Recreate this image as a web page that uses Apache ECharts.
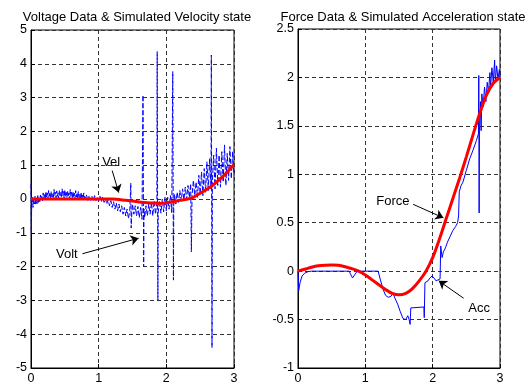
<!DOCTYPE html>
<html>
<head>
<meta charset="utf-8">
<script src="https://cdn.jsdelivr.net/npm/echarts@6/dist/echarts.min.js"></script>
<style>
  html, body { margin: 0; padding: 0; background: #fff; }
  #chart { width: 530px; height: 385px; }
</style>
</head>
<body>
<div id="chart"></div>
<script>
// left panel: voltage data (blue) and simulated velocity (red)
const voltData = [
  [0.00, 0.45], [0.005, -1.0], [0.01, -0.2], [0.02, 0.05], [0.03, -0.25], [0.04, 0.0], [0.05, -0.15],
  [0.06, 0.08], [0.07, -0.18], [0.08, -0.02], [0.09, -0.14], [0.10, 0.1], [0.11, -0.1], [0.12, 0.02],
  [0.13, -0.08], [0.14, 0.12], [0.15, -0.02], [0.16, 0.08], [0.17, -0.05], [0.18, 0.18], [0.19, 0.0],
  [0.20, 0.15], [0.21, -0.02], [0.22, 0.22], [0.23, 0.05], [0.24, 0.18], [0.25, 0.0], [0.26, 0.25],
  [0.27, 0.08], [0.28, 0.2], [0.29, 0.02], [0.30, 0.22], [0.31, 0.06], [0.32, 0.16], [0.33, 0.0],
  [0.34, 0.28], [0.35, 0.1], [0.36, 0.2], [0.37, 0.03], [0.38, 0.24], [0.39, 0.08], [0.40, 0.18],
  [0.41, 0.0], [0.42, 0.26], [0.43, 0.1], [0.44, 0.2], [0.45, 0.04], [0.46, 0.3], [0.47, 0.1],
  [0.48, 0.22], [0.49, 0.02], [0.50, 0.27], [0.51, 0.08], [0.52, 0.2], [0.53, 0.05], [0.54, 0.24],
  [0.55, 0.06], [0.56, 0.18], [0.57, 0.0], [0.58, 0.28], [0.59, 0.08], [0.60, 0.2], [0.61, 0.03],
  [0.62, 0.22], [0.63, 0.05], [0.64, 0.17], [0.65, 0.0], [0.66, 0.25], [0.67, 0.06], [0.68, 0.18],
  [0.69, 0.02], [0.70, 0.22], [0.71, 0.04], [0.72, 0.14], [0.73, -0.02], [0.74, 0.2], [0.75, 0.03],
  [0.76, 0.12], [0.77, 0.0], [0.78, 0.18], [0.79, 0.02], [0.80, 0.1], [0.81, -0.03], [0.82, 0.12],
  [0.84, -0.05], [0.86, 0.1], [0.88, -0.04], [0.90, 0.08], [0.92, -0.06], [0.94, 0.1], [0.96, -0.05],
  [0.98, 0.06], [1.00, -0.06], [1.02, 0.08], [1.04, -0.08], [1.06, 0.06], [1.08, -0.1], [1.10, 0.02],
  [1.12, -0.15], [1.14, -0.02], [1.16, -0.2], [1.18, -0.05], [1.20, -0.25], [1.22, -0.08], [1.24, -0.3],
  [1.26, -0.12], [1.28, -0.35], [1.30, -0.15], [1.32, -0.38], [1.34, -0.2], [1.36, -0.45], [1.38, -0.25],
  [1.40, -0.5], [1.42, -0.3], [1.44, -0.58], [1.46, -0.35], [1.475, 0.47], [1.48, -0.86], [1.49, -0.4],
  [1.50, -0.15], [1.52, -0.45], [1.54, -0.2], [1.56, -0.5], [1.58, -0.22], [1.60, -0.55], [1.62, -0.25],
  [1.64, -0.6], [1.655, 3.07], [1.665, -2.0], [1.67, -0.3], [1.68, -0.55], [1.70, -0.2], [1.72, -0.5],
  [1.74, -0.15], [1.76, -0.45], [1.78, -0.1], [1.80, -0.5], [1.82, -0.05], [1.84, -0.45], [1.86, -0.1],
  [1.865, 4.36], [1.875, -2.99], [1.88, -0.4], [1.90, -0.05], [1.92, -0.42], [1.94, 0.0], [1.96, -0.38],
  [1.98, 0.05], [2.00, -0.35], [2.02, 0.05], [2.04, -0.3], [2.06, 0.1], [2.08, -0.4], [2.095, 3.77],
  [2.105, -2.4], [2.11, -0.1], [2.12, 0.15], [2.14, -0.15], [2.16, 0.2], [2.18, -0.1], [2.20, 0.25],
  [2.22, -0.05], [2.24, 0.3], [2.26, -0.02], [2.28, 0.35], [2.30, 0.0], [2.32, 0.4], [2.34, 0.05],
  [2.36, 0.45], [2.37, -1.56], [2.38, 0.1], [2.40, 0.55], [2.42, 0.1], [2.44, 0.5], [2.46, 0.05],
  [2.48, 0.7], [2.50, 0.15], [2.52, 0.8], [2.54, 0.1], [2.56, 0.9], [2.58, 0.2], [2.60, 1.1],
  [2.62, 0.25], [2.64, 1.2], [2.66, 0.3], [2.665, 4.26], [2.675, -4.4], [2.68, 0.5], [2.70, 1.3],
  [2.72, 0.3], [2.74, 1.5], [2.76, 0.4], [2.78, 1.3], [2.80, 0.35], [2.82, 1.4], [2.84, 0.5],
  [2.86, 1.6], [2.88, 0.4], [2.90, 1.35], [2.92, 0.55], [2.94, 1.55], [2.96, 0.6], [2.98, 1.4],
  [3.00, 0.7]
];
const velData = [
  [0, 0], [0.5, 0], [1.0, 0], [1.2, 0], [1.4, -0.04], [1.6, -0.09], [1.8, -0.12], [1.9, -0.13],
  [2.0, -0.11], [2.1, -0.08], [2.2, -0.04], [2.3, -0.01], [2.4, 0.05], [2.5, 0.17], [2.6, 0.29],
  [2.7, 0.43], [2.8, 0.6], [2.9, 0.8], [3.0, 1.02]
];

// right panel: force data (red) and acceleration (blue)
const forceData = [
  [0, 0], [0.1, 0.02], [0.2, 0.04], [0.3, 0.055], [0.4, 0.062], [0.5, 0.064], [0.6, 0.06],
  [0.7, 0.045], [0.8, 0.025], [0.9, 0.0], [1.0, -0.04], [1.1, -0.09], [1.2, -0.14], [1.3, -0.19],
  [1.4, -0.23], [1.5, -0.245], [1.6, -0.23], [1.7, -0.18], [1.8, -0.1], [1.9, 0.0], [2.0, 0.14],
  [2.1, 0.33], [2.2, 0.54], [2.3, 0.75], [2.4, 0.96], [2.5, 1.18], [2.6, 1.41], [2.7, 1.63],
  [2.8, 1.82], [2.9, 1.94], [3.0, 2.0]
];
const accData = [
  [0.00, 0.0], [0.01, -0.2], [0.03, -0.12], [0.06, -0.05], [0.10, -0.02], [0.15, -0.005], [0.20, 0],
  [0.76, 0], [0.78, -0.03], [0.81, -0.07], [0.84, -0.04], [0.87, -0.01], [0.90, 0], [1.19, 0],
  [1.22, -0.08], [1.26, -0.18], [1.30, -0.25], [1.34, -0.27], [1.38, -0.26], [1.41, -0.23],
  [1.44, -0.28], [1.48, -0.34], [1.52, -0.42], [1.56, -0.49], [1.60, -0.5], [1.63, -0.46],
  [1.65, -0.5], [1.665, -0.55], [1.675, -0.38], [1.70, -0.37], [1.87, -0.37], [1.875, -0.48],
  [1.885, -0.12], [1.90, -0.14], [1.93, -0.1], [1.96, -0.07], [1.99, -0.05], [2.02, -0.07],
  [2.05, -0.1], [2.08, -0.09], [2.11, -0.08], [2.12, 0.26], [2.14, 0.14], [2.16, 0.2], [2.19, 0.24],
  [2.22, 0.3], [2.26, 0.36], [2.30, 0.42], [2.34, 0.46], [2.37, 0.5], [2.385, 0.57], [2.395, 0.82],
  [2.42, 0.88], [2.45, 0.92], [2.50, 1.04], [2.55, 1.16], [2.60, 1.25], [2.65, 1.35], [2.68, 1.42],
  [2.685, 2.02], [2.69, 0.6], [2.695, 1.45], [2.71, 1.75], [2.72, 1.45], [2.73, 1.83], [2.75, 1.7],
  [2.77, 1.9], [2.79, 1.75], [2.81, 1.95], [2.83, 1.85], [2.85, 2.05], [2.86, 1.9], [2.88, 2.1],
  [2.90, 1.95], [2.92, 2.18], [2.93, 1.95], [2.95, 2.12], [2.97, 1.98], [2.99, 2.08], [3.00, 2.0]
];

// axis ranges
const xTicks = [0, 3, 1];
const leftTicks = [-5, 5, 1];
const rightTicks = [-1, 2.5, 0.5];

// annotations: [text, textPos, arrowStart, arrowEnd]
const leftNotes = [
  ['Vel', [1.185, 1.07], [1.2, 0.84], [1.296, 0.19]],
  ['Volt', [0.53, -1.65], [0.76, -1.62], [1.59, -1.16]]
];
const rightNotes = [
  ['Force', [1.41, 0.72], [1.71, 0.69], [2.16, 0.55]],
  ['Acc', [2.69, -0.39], [2.46, -0.28], [2.09, -0.1]]
];

const font = 'Liberation Sans, Arial, sans-serif';

const makeX = (gi) => ({
  type: 'value', gridIndex: gi, min: xTicks[0], max: xTicks[1], interval: xTicks[2],
  axisLine: { show: true, onZero: false, lineStyle: { color: '#000', width: 1 } },
  axisTick: { show: true, inside: true, length: 4, lineStyle: { color: '#000' } },
  axisLabel: { color: '#000', fontSize: 12.5, fontFamily: font, margin: 4 },
  splitLine: { show: true, lineStyle: { color: '#333', type: [4, 3], width: 1 } }
});
const makeY = (gi, t) => ({
  type: 'value', gridIndex: gi, min: t[0], max: t[1], interval: t[2],
  axisLine: { show: true, lineStyle: { color: '#000', width: 1 } },
  axisTick: { show: true, inside: true, length: 4, lineStyle: { color: '#000' } },
  axisLabel: { color: '#000', fontSize: 12.5, fontFamily: font, margin: 4 },
  splitLine: { show: true, lineStyle: { color: '#333', type: [4, 3], width: 1 } }
});

const notes = (list) => ({
  markLine: {
    silent: true, animation: false,
    symbol: ['none', 'arrow'], symbolSize: 8,
    label: { show: false },
    lineStyle: { color: '#000', width: 1, type: 'solid' },
    data: list.map(n => [{ coord: n[2] }, { coord: n[3] }])
  },
  markPoint: {
    silent: true, animation: false,
    symbol: 'circle', symbolSize: 0,
    label: { show: true, position: 'inside', formatter: '{b}', color: '#000', fontSize: 13, fontFamily: font },
    data: list.map(n => ({ name: n[0], coord: n[1] }))
  }
});

const chart = echarts.init(document.getElementById('chart'));
chart.setOption({
  animation: false,
  backgroundColor: '#fff',
  title: [
    { text: 'Voltage Data & Simulated Velocity state', left: 132, top: 6, textAlign: 'center',
      textStyle: { fontSize: 13, fontWeight: 'normal', color: '#000', fontFamily: font } },
    { text: 'Force Data & Simulated Acceleration state', left: 398, top: 6, textAlign: 'center',
      textStyle: { fontSize: 13, fontWeight: 'normal', color: '#000', fontFamily: font } }
  ],
  grid: [
    { left: 31, top: 30, width: 203, height: 339, show: true, borderColor: '#000', borderWidth: 1 },
    { left: 298, top: 29, width: 202, height: 339, show: true, borderColor: '#000', borderWidth: 1 }
  ],
  xAxis: [makeX(0), makeX(1)],
  yAxis: [makeY(0, leftTicks), makeY(1, rightTicks)],
  series: [
    { name: 'Volt', type: 'line', xAxisIndex: 0, yAxisIndex: 0, data: voltData,
      showSymbol: false, lineStyle: { color: '#0000ff', width: 1, type: [5, 2] }, z: 2 },
    Object.assign({ name: 'Vel', type: 'line', xAxisIndex: 0, yAxisIndex: 0, data: velData,
      showSymbol: false, smooth: 0.3, lineStyle: { color: '#ff0000', width: 3 }, z: 3 }, notes(leftNotes)),
    { name: 'Acc', type: 'line', xAxisIndex: 1, yAxisIndex: 1, data: accData,
      showSymbol: false, lineStyle: { color: '#0000ff', width: 1 }, z: 2 },
    Object.assign({ name: 'Force', type: 'line', xAxisIndex: 1, yAxisIndex: 1, data: forceData,
      showSymbol: false, smooth: 0.3, lineStyle: { color: '#ff0000', width: 3 }, z: 3 }, notes(rightNotes))
  ]
});
</script>
</body>
</html>
